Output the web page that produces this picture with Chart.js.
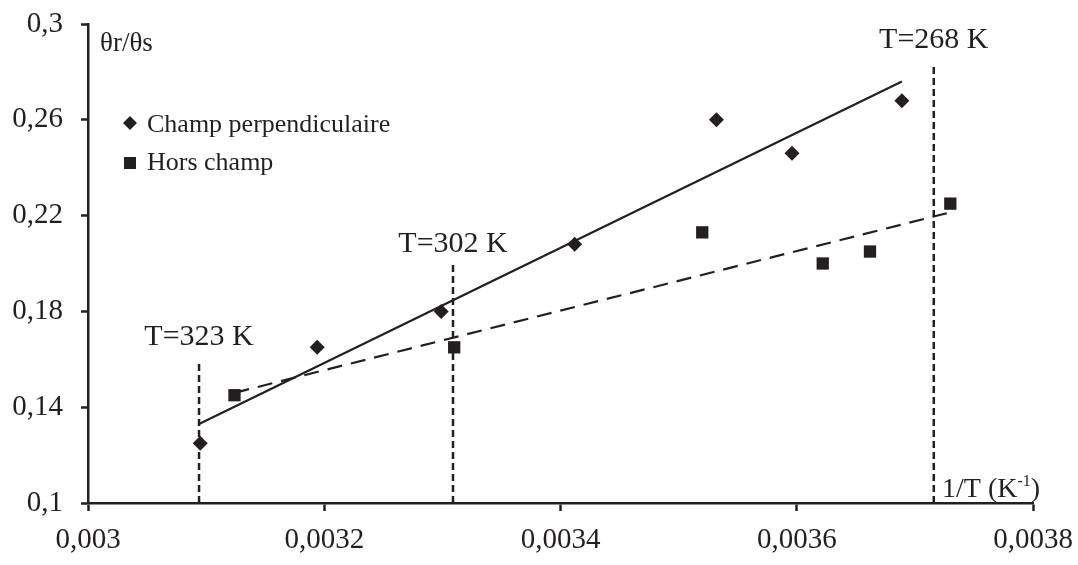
<!DOCTYPE html>
<html>
<head>
<meta charset="utf-8">
<script src="https://cdn.jsdelivr.net/npm/chart.js@4.4.1/dist/chart.umd.min.js"></script>
<style>
  html, body { margin: 0; padding: 0; background: #fff; }
</style>
</head>
<body>
<canvas id="graphe" width="1078" height="565"></canvas>
<script>
// points (x = 1/T, y = θr/θs)
const perpX = [0.003095, 0.003194, 0.003299, 0.003412, 0.003532, 0.003596, 0.003689];
const perpY = [0.125, 0.165, 0.180, 0.208, 0.260, 0.246, 0.268];
const horsX = [0.003124, 0.003310, 0.003520, 0.003622, 0.003662, 0.003730];
const horsY = [0.145, 0.165, 0.213, 0.200, 0.205, 0.225];

// droites de tendance (extrémités lues)
const trendPerpX = [0.003094, 0.003689];
const trendPerpY = [0.133, 0.276];
const trendHorsX = [0.003124, 0.003727];
const trendHorsY = [0.146, 0.221];

// repères de température
const tempLabels = ['T=323 K', 'T=302 K', 'T=268 K'];
const tempX = [0.003094, 0.003309, 0.003716];
const tempTop = [0.1585, 0.2002, 0.2837];
const tempTextY = [0.166, 0.205, 0.290];

const xTicks = [0.003, 0.0032, 0.0034, 0.0036, 0.0038];
const yTicks = [0.1, 0.14, 0.18, 0.22, 0.26, 0.3];

const noir = '#231f20';
const police = '"Liberation Serif", "Times New Roman", serif';

function pts(xs, ys) {
    return xs.map((x, i) => ({ x: x, y: ys[i] }));
}

function virgule(v, d) {
    return String(+v.toFixed(d)).replace('.', ',');
}

// pas de marge automatique autour des axes
function sansMarge(s) {
    s.paddingTop = 0; s.paddingBottom = 0;
    s.paddingLeft = 0; s.paddingRight = 0;
}

const datasets = [];

// lignes verticales pointillées
tempX.forEach((x, i) => {
    datasets.push({
        data: [{ x: x, y: 0.1 }, { x: x, y: tempTop[i] }],
        showLine: true,
        borderColor: noir,
        borderWidth: 2.5,
        borderDash: [7, 4],
        pointRadius: 0
    });
});

datasets.push({
    data: pts(trendPerpX, trendPerpY),
    showLine: true,
    borderColor: noir,
    borderWidth: 2.2,
    pointRadius: 0
});
datasets.push({
    data: pts(trendHorsX, trendHorsY),
    showLine: true,
    borderColor: noir,
    borderWidth: 2.2,
    borderDash: [15, 9],
    pointRadius: 0
});

datasets.push({
    label: 'Champ perpendiculaire',
    data: pts(perpX, perpY),
    pointStyle: 'rectRot',
    pointRadius: 7.5,
    backgroundColor: noir,
    borderColor: noir,
    borderWidth: 0
});
datasets.push({
    label: 'Hors champ',
    data: pts(horsX, horsY),
    pointStyle: 'rect',
    pointRadius: 8.7,
    backgroundColor: noir,
    borderColor: noir,
    borderWidth: 0
});

// textes : repères, légende, titres des axes
const textes = {
    id: 'textes',
    afterDatasetsDraw(chart) {
        const ctx = chart.ctx;
        const sx = chart.scales.x, sy = chart.scales.y;
        const ca = chart.chartArea;
        ctx.save();
        ctx.fillStyle = noir;

        ctx.font = '30px ' + police;
        ctx.textAlign = 'center';
        ctx.textBaseline = 'alphabetic';
        tempLabels.forEach((t, i) => {
            ctx.fillText(t, sx.getPixelForValue(tempX[i]), sy.getPixelForValue(tempTextY[i]));
        });

        // légende
        ctx.textAlign = 'left';
        ctx.font = '26px ' + police;
        const lx = ca.left + 42;
        ctx.beginPath();
        ctx.moveTo(lx - 7, 123); ctx.lineTo(lx, 116); ctx.lineTo(lx + 7, 123); ctx.lineTo(lx, 130);
        ctx.closePath();
        ctx.fill();
        ctx.fillText('Champ perpendiculaire', lx + 17, 132);
        ctx.fillRect(lx - 6, 157, 12, 12);
        ctx.fillText('Hors champ', lx + 17, 170);

        // titre axe y
        ctx.font = '27px ' + police;
        ctx.fillText('θr/θs', ca.left + 12, 51);

        // titre axe x
        ctx.font = '28px ' + police;
        let x0 = ca.right - 91;
        ctx.fillText('1/T (K', x0, 497);
        x0 += ctx.measureText('1/T (K').width;
        ctx.font = '16px ' + police;
        ctx.fillText('-1', x0, 486);
        x0 += ctx.measureText('-1').width;
        ctx.font = '28px ' + police;
        ctx.fillText(')', x0, 497);

        ctx.restore();
    }
};

new Chart(document.getElementById('graphe'), {
    type: 'scatter',
    data: { datasets: datasets },
    options: {
        responsive: false,
        animation: false,
        devicePixelRatio: 1,
        layout: { padding: { top: 24, right: 45, left: 0, bottom: 0 } },
        plugins: {
            legend: { display: false },
            tooltip: { enabled: false }
        },
        scales: {
            x: {
                type: 'linear',
                min: 0.003,
                max: 0.0038,
                afterFit: s => { s.height = 62; sansMarge(s); },
                afterBuildTicks: s => { s.ticks = xTicks.map(v => ({ value: v })); },
                grid: { drawOnChartArea: false, drawTicks: true, tickLength: 8, tickWidth: 2.5, tickColor: noir },
                border: { display: true, color: noir, width: 2.5 },
                ticks: {
                    color: noir,
                    padding: 12,
                    maxRotation: 0,
                    font: { family: police, size: 29 },
                    callback: v => virgule(v, 4)
                }
            },
            y: {
                type: 'linear',
                min: 0.1,
                max: 0.3,
                afterFit: s => { s.width = 88; sansMarge(s); },
                afterBuildTicks: s => { s.ticks = yTicks.map(v => ({ value: v })); },
                grid: { drawOnChartArea: false, drawTicks: true, tickLength: 7, tickWidth: 2.5, tickColor: noir },
                border: { display: true, color: noir, width: 2.5 },
                ticks: {
                    color: noir,
                    padding: 18,
                    font: { family: police, size: 29 },
                    callback: v => virgule(v, 2)
                }
            }
        }
    },
    plugins: [textes]
});
</script>
</body>
</html>
